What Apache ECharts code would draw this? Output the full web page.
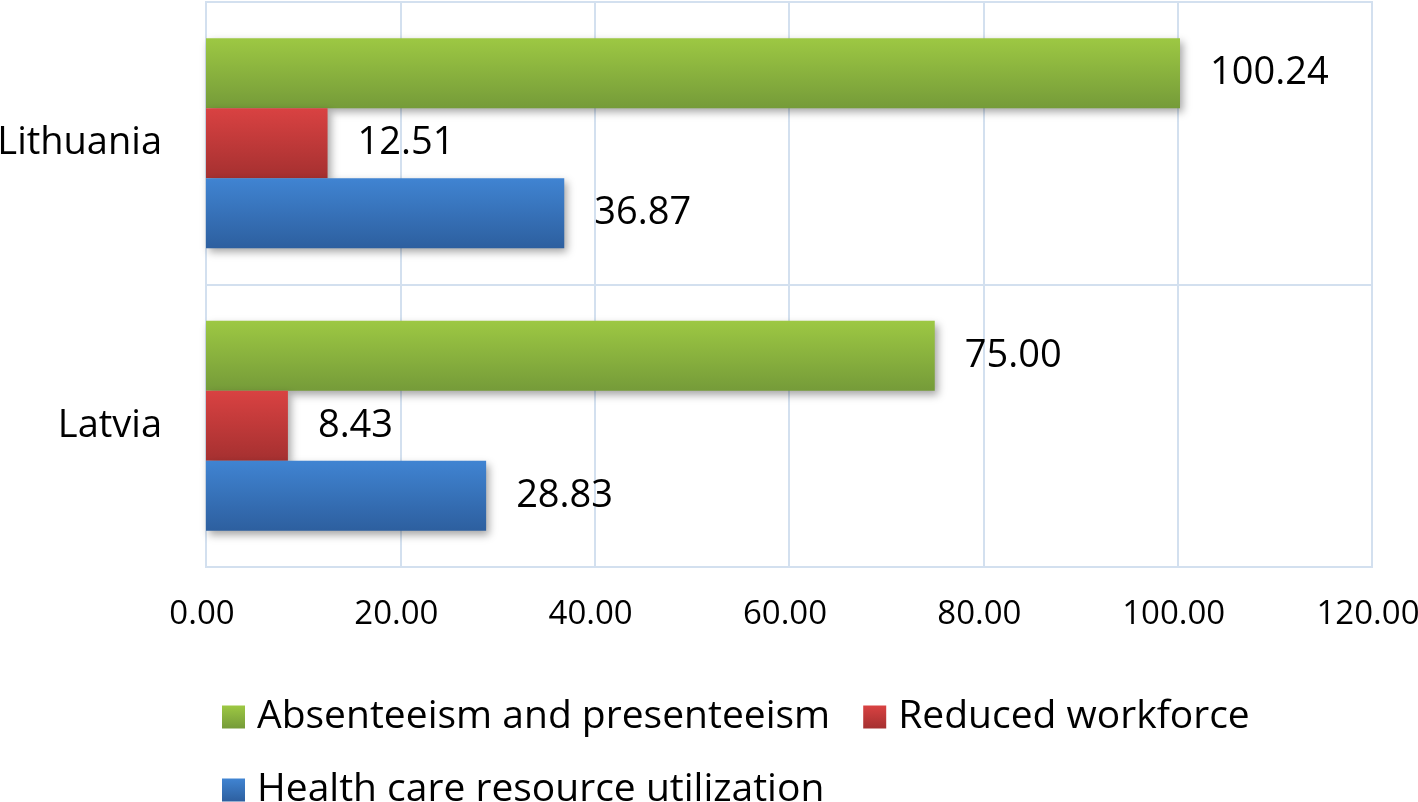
<!DOCTYPE html>
<html><head><meta charset="utf-8">
<script src="https://cdn.jsdelivr.net/npm/echarts@6/dist/echarts.min.js"></script>
<style>html,body{margin:0;padding:0;background:#fff;}#c{width:1418px;height:802px;}</style>
</head><body><div id="c"></div>
<script>
const categories = ['Latvia', 'Lithuania'];
const seriesNames = ['Absenteeism and presenteeism', 'Reduced workforce', 'Health care resource utilization'];
const absenteeism = [75.00, 100.24];
const reducedWorkforce = [8.43, 12.51];
const healthCare = [28.83, 36.87];
const xTicks = [0, 20, 40, 60, 80, 100, 120];

const FONT = 'Open Sans';
const grad = (top, bottom) => new echarts.graphic.LinearGradient(0, 0, 0, 1, [{offset: 0, color: top}, {offset: 1, color: bottom}]);
const colors = [grad('#9dc843', '#759b39'), grad('#d94242', '#a53030'), grad('#4084d2', '#2d5f9f')];
const values = [absenteeism, reducedWorkforce, healthCare];

const chart = echarts.init(document.getElementById('c'), null, {renderer: 'canvas'});
chart.setOption({
  animation: false,
  backgroundColor: '#ffffff',
  textStyle: {fontFamily: FONT, color: '#000'},
  grid: {left: 206, right: 46, top: 2, bottom: 235, show: true, borderColor: '#d3e0ef', borderWidth: 2, containLabel: false, outerBoundsMode: 'none'},
  legend: {
    data: seriesNames,
    left: 217, top: 692, width: 1150,
    itemWidth: 23, itemHeight: 23, itemGap: 33,
    icon: 'rect',
    textStyle: {fontFamily: FONT, fontSize: 39, color: '#000', lineHeight: 40, padding: [0, 0, 0, 7]}
  },
  xAxis: {
    type: 'value', min: xTicks[0], max: xTicks[xTicks.length - 1], interval: 20,
    axisLine: {show: true, lineStyle: {color: '#d3e0ef', width: 2}},
    axisTick: {show: false},
    splitLine: {show: true, lineStyle: {color: '#d3e0ef', width: 2}},
    axisLabel: {fontFamily: FONT, fontSize: 33, color: '#000', margin: 31, padding: [0, 8, 0, 0], formatter: v => v.toFixed(2)}
  },
  yAxis: {
    type: 'category', data: categories,
    axisLine: {show: true, lineStyle: {color: '#d3e0ef', width: 2}},
    axisTick: {show: false},
    splitLine: {show: true, lineStyle: {color: '#d3e0ef', width: 2}},
    axisLabel: {fontFamily: FONT, fontSize: 38, color: '#000', margin: 44}
  },
  series: seriesNames.map((name, i) => ({
    name, type: 'bar', data: values[i],
    barWidth: 70, barGap: '0%',
    itemStyle: {color: colors[i], shadowBlur: 8, shadowOffsetX: 3, shadowOffsetY: 4, shadowColor: 'rgba(0,0,0,0.35)'},
    label: {show: true, position: 'right', distance: 30, fontFamily: FONT, fontSize: 38, color: '#000', formatter: p => p.value.toFixed(2)}
  }))
});
</script></body></html>
